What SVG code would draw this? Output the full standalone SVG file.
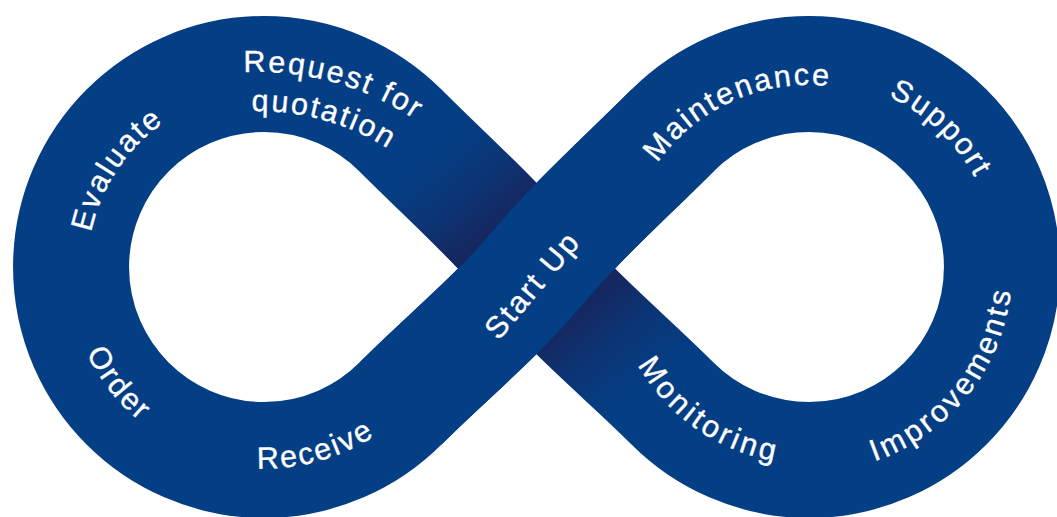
<svg xmlns="http://www.w3.org/2000/svg" xmlns:xlink="http://www.w3.org/1999/xlink" width="1057" height="517" viewBox="0 0 1057 517">
<style>
.band{fill:none;stroke:#043e84;stroke-width:116;stroke-linecap:butt;stroke-linejoin:round}
.shade{fill:none;stroke-width:116;stroke-linecap:butt}
.lbl{font-family:"Liberation Sans",Arial,Helvetica,sans-serif;font-size:30.5px;letter-spacing:2.2px;fill:#ffffff;stroke:#ffffff;stroke-width:0.35px}
.wide{letter-spacing:3.3px}
</style>
<defs>
<linearGradient id="shUL" gradientUnits="userSpaceOnUse" x1="499.2" y1="224.6" x2="433.6" y2="146.5">
<stop offset="0" stop-color="#17265e" stop-opacity="0.95"/>
<stop offset="0.45" stop-color="#17265e" stop-opacity="0.4"/>
<stop offset="1" stop-color="#17265e" stop-opacity="0"/>
</linearGradient>
<linearGradient id="shLR" gradientUnits="userSpaceOnUse" x1="573.8" y1="313.4" x2="639.4" y2="391.5">
<stop offset="0" stop-color="#17265e" stop-opacity="0.95"/>
<stop offset="0.45" stop-color="#17265e" stop-opacity="0.4"/>
<stop offset="1" stop-color="#17265e" stop-opacity="0"/>
</linearGradient>
<path id="pEval" d="M 93.3 313.6 A 177.5 177.5 0 0 1 240.6 92.7"/>
<path id="pReq" d="M 174.3 84.6 A 283 283 0 0 1 468.9 166.4"/>
<path id="pQuo" d="M 168.6 128.1 A 244 244 0 0 1 451.8 206.8"/>
<path id="pOrd" d="M 68.3 250.3 A 197.5 197.5 0 0 0 236.5 463.9"/>
<path id="pRec" d="M 173.3 446.2 A 200 200 0 0 0 435.9 372.4"/>
<path id="pMai" d="M 634.7 208.1 A 183.5 183.5 0 0 1 879.1 99.3"/>
<path id="pSup" d="M 802.4 78.6 A 190 190 0 0 1 997.9 264.2"/>
<path id="pImp" d="M 842 469.6 A 204 204 0 0 0 1011.6 255"/>
<path id="pMon" d="M 616.2 306.5 A 195.5 195.5 0 0 0 839.3 461.5"/>
</defs>
<rect width="1057" height="517" fill="#ffffff"/>
<g id="loop">
<path class="band" d="M 536.5 269 C 495.4 220 445.7 175.7 400.5 130.5 A 193 193 0 1 0 400.5 403.5 C 445.7 358.3 495.4 318 536.5 269 C 577.6 220 627.3 175.7 672.5 130.5 A 193 193 0 1 1 672.5 403.5 C 627.3 358.3 577.6 318 536.5 269 Z"/>
<path class="shade" stroke="url(#shUL)" d="M 536.5 269 C 495.4 220 445.7 175.7 400.5 130.5"/>
<path class="shade" stroke="url(#shLR)" d="M 672.5 403.5 C 627.3 358.3 577.6 318 536.5 269"/>
<path class="band" d="M 400.5 403.5 C 445.7 358.3 495.4 318 536.5 269 C 577.6 220 627.3 175.7 672.5 130.5"/>
</g>
<g id="evaluate"><text class="lbl"><textPath xlink:href="#pEval" startOffset="50%" text-anchor="middle">Evaluate</textPath></text></g>
<g id="request-for-quotation">
<text class="lbl"><textPath xlink:href="#pReq" startOffset="50%" text-anchor="middle">Request for</textPath></text>
<text class="lbl"><textPath xlink:href="#pQuo" startOffset="50%" text-anchor="middle">quotation</textPath></text>
</g>
<g id="order"><text class="lbl"><textPath xlink:href="#pOrd" startOffset="50%" text-anchor="middle">Order</textPath></text></g>
<g id="receive"><text class="lbl"><textPath xlink:href="#pRec" startOffset="50%" text-anchor="middle">Receive</textPath></text></g>
<g id="start-up"><text class="lbl" x="540.2" y="291.6" text-anchor="middle" transform="rotate(-50 540.2 291.6)">Start Up</text></g>
<g id="maintenance"><text class="lbl"><textPath xlink:href="#pMai" startOffset="50%" text-anchor="middle">Maintenance</textPath></text></g>
<g id="support"><text class="lbl"><textPath xlink:href="#pSup" startOffset="50%" text-anchor="middle">Support</textPath></text></g>
<g id="improvements"><text class="lbl wide"><textPath xlink:href="#pImp" startOffset="50%" text-anchor="middle">Improvements</textPath></text></g>
<g id="monitoring"><text class="lbl wide"><textPath xlink:href="#pMon" startOffset="50%" text-anchor="middle">Monitoring</textPath></text></g>
</svg>
